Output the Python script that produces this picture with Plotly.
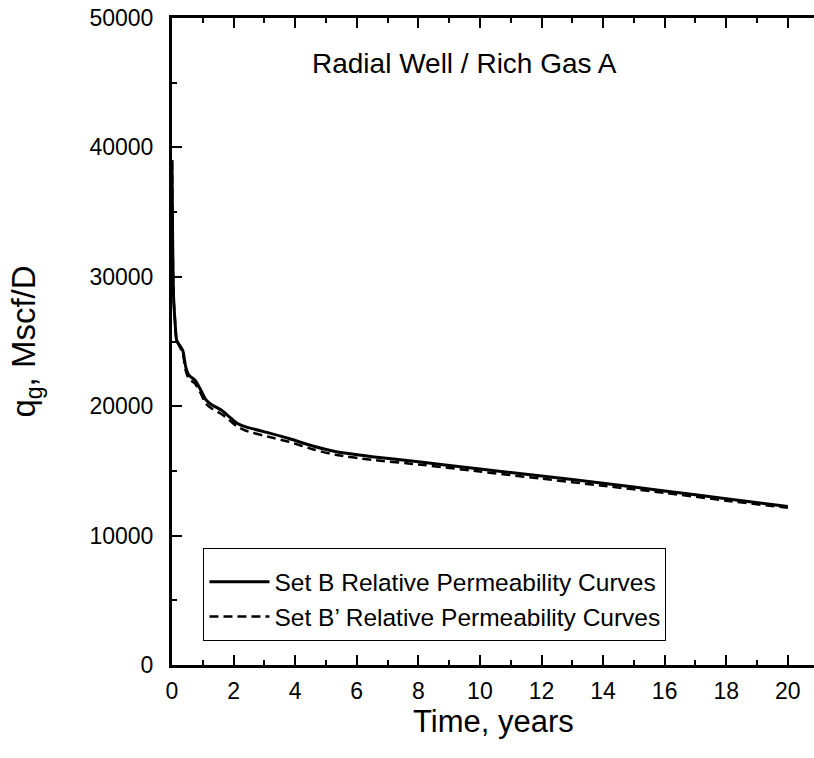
import plotly.graph_objects as go

# Time, years
time_b = [0, 0.02, 0.05, 0.1, 0.15, 0.25, 0.35, 0.45, 0.55, 0.75, 0.9, 1.1, 1.3, 1.6, 1.85,
          2.1, 2.4, 3.2, 3.8, 4.6, 5.3, 6.5, 8, 10, 12, 14, 16, 18, 20]
# Set B rates, Mscf/D
rate_b = [39000, 33000, 28500, 26500, 25100, 24700, 24300, 23000, 22400, 22000, 21400, 20500,
          20100, 19700, 19200, 18700, 18400, 17900, 17500, 16900, 16500, 16100, 15700, 15150,
          14600, 14050, 13450, 12850, 12240]
# Set B' rates, Mscf/D
rate_bp = [39000, 33000, 28500, 26500, 25100, 24600, 24100, 22700, 22100, 21750, 21150, 20200,
           19800, 19400, 18950, 18450, 18100, 17600, 17250, 16650, 16250, 15850, 15500, 14950,
           14400, 13850, 13300, 12700, 12150]

names = ["Set B Relative Permeability Curves", "Set B\u2019 Relative Permeability Curves"]
x_ticks = [0, 2, 4, 6, 8, 10, 12, 14, 16, 18, 20]
y_ticks = [0, 10000, 20000, 30000, 40000, 50000]
y_labels = ["0", "10000", "20000", "30000", "40000", "50000"]

FONT = "Arial, Liberation Sans, sans-serif"

fig = go.Figure()
fig.add_trace(go.Scatter(x=time_b, y=rate_b, mode="lines", name=names[0],
                         line=dict(color="black", width=3, shape="spline", smoothing=0.6)))
fig.add_trace(go.Scatter(x=time_b, y=rate_bp, mode="lines", name=names[1],
                         line=dict(color="black", width=2.5, dash="9px,5px", shape="spline", smoothing=0.6)))

fig.add_annotation(text="Radial Well / Rich Gas A", x=0.456, y=50000 - 3500, xref="paper", yref="y",
                   showarrow=False, font=dict(size=28, color="black", family=FONT))
fig.add_annotation(text="Time, years", x=0.5, y=-0.087, xref="paper", yref="paper",
                   xanchor="center", yanchor="middle",
                   showarrow=False, font=dict(size=31, color="black", family=FONT))

fig.update_layout(
    width=814, height=758,
    margin=dict(l=172, r=0, t=18, b=93),
    paper_bgcolor="white", plot_bgcolor="white",
    font=dict(family=FONT, color="black"),
    showlegend=True,
    legend=dict(x=0.049, y=0.181, xanchor="left", yanchor="top",
                bordercolor="black", borderwidth=1, bgcolor="white",
                font=dict(size=24.5, color="black", family=FONT),
                title=dict(text=" ", font=dict(size=8)),
                itemwidth=60, tracegroupgap=0),
    xaxis=dict(range=[0, 20.85], tickvals=x_ticks, ticks="inside", ticklen=10, tickwidth=1.5,
               tickcolor="black", showline=True, linecolor="black", linewidth=3, mirror="ticks",
               showgrid=False, zeroline=False, tickfont=dict(size=23, family=FONT),
               ticklabelstandoff=3,
               minor=dict(dtick=1, tick0=0, ticks="inside", ticklen=5, tickwidth=1.5, tickcolor="black")),
    yaxis=dict(range=[0, 50000], tickvals=y_ticks, ticktext=y_labels, ticks="inside", ticklen=10,
               tickwidth=1.5, tickcolor="black", showline=True, linecolor="black", linewidth=3,
               mirror=False, showgrid=False, zeroline=False, tickfont=dict(size=23, family=FONT),
               ticklabelstandoff=11,
               minor=dict(dtick=5000, tick0=0, ticks="inside", ticklen=5, tickwidth=1.5, tickcolor="black"),
               title=dict(text="q<sub>g</sub>, Mscf/D", font=dict(size=33, family=FONT), standoff=44)),
)

fig.write_html("out.html")
